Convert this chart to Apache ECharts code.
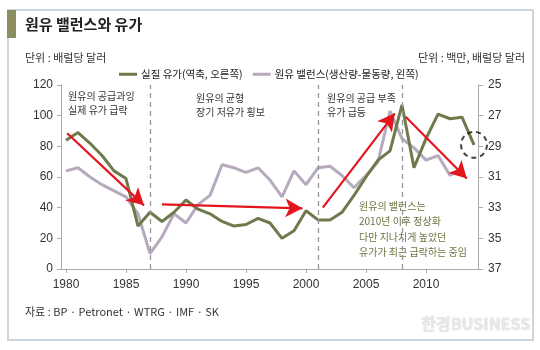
<!DOCTYPE html>
<html><head><meta charset="utf-8">
<script src="https://cdn.jsdelivr.net/npm/echarts@6/dist/echarts.min.js"></script>
<style>html,body{margin:0;padding:0;background:#fff}#c{width:540px;height:350px}</style>
</head><body><div id="c"></div>
<script>
const years = [1980,1981,1982,1983,1984,1985,1986,1987,1988,1989,1990,1991,1992,1993,1994,1995,1996,1997,1998,1999,2000,2001,2002,2003,2004,2005,2006,2007,2008,2009,2010,2011,2012,2013,2014];
const realOilPrice = [84,89,82,74,64,59,28,37,31,37,45,39,36,31,28,29,33,30,20,25,38,32,32,37,48,60,71,77,107,66,85,101,98,99,81];
const crudeBalance = [30.6,30.4,31.0,31.5,31.9,32.3,33.4,36.0,34.9,33.4,34.0,32.8,32.2,30.2,30.4,30.7,30.4,31.2,32.3,30.6,31.5,30.4,30.3,30.9,31.7,30.9,30.0,26.7,28.5,29.1,29.9,29.6,30.9,30.4];
const xTickLabels = [1980,1985,1990,1995,2000,2005,2010];
const leftTicks = [0,20,40,60,80,100,120];
const rightTicks = [25,27,29,31,33,35,37];
const phaseLines = [1987,2001,2008];
const arrows = [
  [[1980.1,88.5],[1986.5,41.5]],
  [[1988.0,42.2],[1999.7,39.6]],
  [[2001.4,40],[2007.4,101.5]],
  [[2008.3,99.3],[2013.4,59]]
];
const circled = [[2014,81]];
const seriesNames = ['실질 유가(역축, 오른쪽)','원유 밸런스(생산량-물동량, 왼쪽)'];

const chart = echarts.init(document.getElementById('c'));
const numFont = "'Liberation Sans Narrow','Liberation Sans',Arial,sans-serif";
const krFont = "'Noto Sans CJK KR','Noto Sans',sans-serif";
const axisLabelStyle = {color:'#333', fontFamily:numFont, fontSize:12};
chart.setOption({
  animation:false,
  textStyle:{fontFamily:krFont},
  grid:{left:61, right:62, top:85, bottom:81},
  legend:{
    left:114, top:64, itemWidth:18, itemHeight:3, itemGap:10, icon:'rect',
    textStyle:{fontFamily:krFont, fontSize:10.5, color:'#222', padding:[0,0,0,-1]},
    data:seriesNames
  },
  xAxis:{
    type:'value', min:1979.583, max:2014.333,
    axisLine:{lineStyle:{color:'#aaa'}},
    axisTick:{customValues:xTickLabels, length:4, lineStyle:{color:'#aaa'}},
    axisLabel:Object.assign({customValues:xTickLabels, margin:10, formatter:v=>String(v)}, axisLabelStyle),
    splitLine:{show:false}
  },
  yAxis:[
    {type:'value', min:0, max:120, interval:20,
     axisLine:{show:true, lineStyle:{color:'#aaa'}},
     axisTick:{show:true, length:4, lineStyle:{color:'#aaa'}},
     axisLabel:Object.assign({margin:8}, axisLabelStyle),
     splitLine:{show:false}},
    {type:'value', min:25, max:37, inverse:true, position:'right',
     axisLine:{show:true, lineStyle:{color:'#aaa'}},
     axisTick:{show:true, length:5, customValues:rightTicks, lineStyle:{color:'#aaa'}},
     axisLabel:Object.assign({margin:10, customValues:rightTicks}, axisLabelStyle),
     splitLine:{show:false}}
  ],
  series:[
    {name:seriesNames[0], type:'line', yAxisIndex:0, showSymbol:false, z:3,
     color:'#6f7a4b', lineStyle:{width:3, color:'#6f7a4b'},
     data:years.map((y,i)=>[y, realOilPrice[i]]),
     markLine:{silent:true, symbol:'none', label:{show:false},
       lineStyle:{type:[5,4], color:'#999', width:1.3},
       data:phaseLines.map(v=>({xAxis:v}))}},
    {name:seriesNames[1], type:'line', yAxisIndex:1, showSymbol:false, z:2,
     color:'#b7aabd', lineStyle:{width:3, color:'#b7aabd'},
     data:crudeBalance.map((v,i)=>[years[i], v])},
    {name:'arrows', type:'line', yAxisIndex:0, data:[], z:5,
     markLine:{silent:true, symbol:['none','arrow'], symbolSize:[14,17], label:{show:false},
       lineStyle:{type:'solid', color:'#e3161d', width:2.2},
       data:arrows.map(a=>[{coord:a[0]},{coord:a[1]}])}},
    {name:'circle', type:'scatter', yAxisIndex:0, z:6, symbol:'circle', symbolSize:26,
     itemStyle:{color:'rgba(0,0,0,0)', borderColor:'#111', borderWidth:2, borderType:[5,4]},
     data:circled}
  ],
  graphic:[
    {type:'rect', shape:{x:8, y:10, width:525, height:330}, style:{fill:'none', stroke:'#cdd6de', lineWidth:2}, silent:true},
    {type:'rect', shape:{x:7, y:10, width:9, height:28}, style:{fill:'#8d8e5f'}, silent:true},
    {type:'text', left:25, top:17, style:{text:'원유 밸런스와 유가', font:"bold 15px 'Noto Sans CJK KR'", fill:'#222'}},
    {type:'text', left:25, top:52, style:{text:'단위 : 배럴당 달러', font:"11px 'Noto Sans CJK KR'", fill:'#333'}},
    {type:'text', right:15, top:52, style:{text:'단위 : 백만, 배럴당 달러', font:"11px 'Noto Sans CJK KR'", fill:'#333'}},
    {type:'text', left:68, top:89, style:{text:'원유의 공급과잉\n실제 유가 급락', font:"10px 'Noto Sans CJK KR'", fill:'#333', lineHeight:14}},
    {type:'text', left:196, top:91, style:{text:'원유의 균형\n장기 저유가 횡보', font:"10px 'Noto Sans CJK KR'", fill:'#333', lineHeight:14}},
    {type:'text', left:327, top:91, style:{text:'원유의 공급 부족\n유가 급등', font:"10px 'Noto Sans CJK KR'", fill:'#333', lineHeight:14}},
    {type:'text', left:359, top:198, style:{text:'원유의 밸런스는\n2010년 이후 정상화\n다만 지나치게 높았던\n유가가 최근 급락하는 중임', font:"10px 'Noto Sans CJK KR'", fill:'#6b7541', lineHeight:15.5}},
    {type:'text', left:25, top:306, style:{text:'자료 : BP · Petronet · WTRG · IMF · SK', font:"11px 'Noto Sans CJK KR'", fill:'#333'}},
    {type:'text', left:421, top:316, style:{text:'한경BUSINESS', font:"bold 16px 'Noto Sans CJK KR'", fill:'#e8e8e8', stroke:'#d2d2d2', lineWidth:0.5}}
  ]
});
</script></body></html>
